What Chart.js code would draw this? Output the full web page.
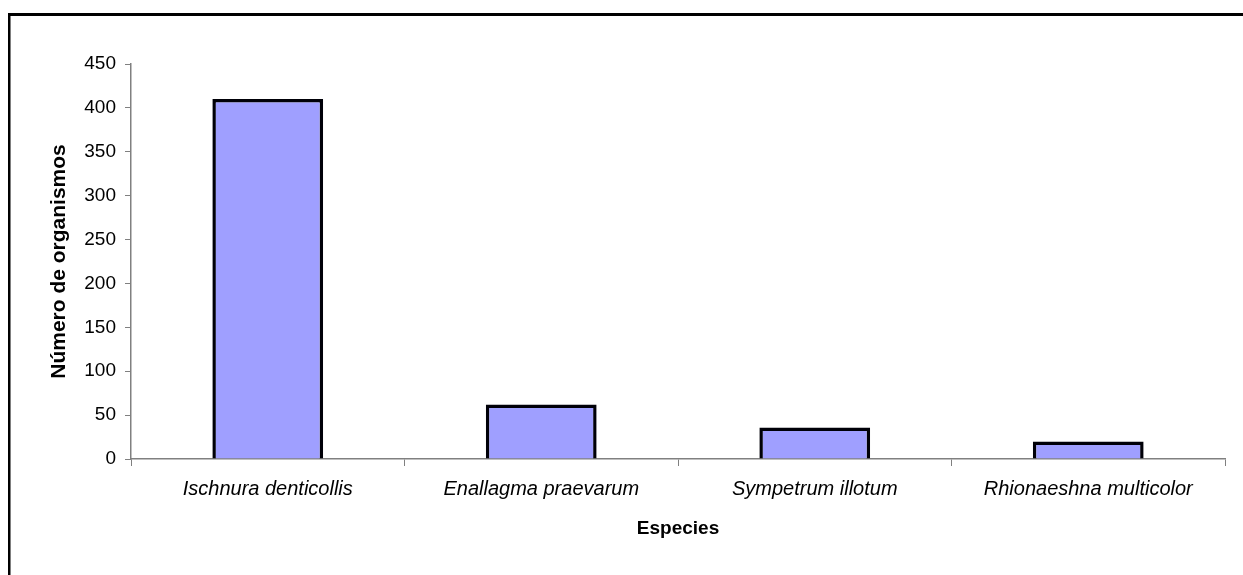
<!DOCTYPE html>
<html>
<head>
<meta charset="utf-8">
<script src="https://cdn.jsdelivr.net/npm/chart.js@4/dist/chart.umd.min.js"></script>
<style>
  html, body { margin: 0; padding: 0; background: #ffffff; }
  #wrap { position: relative; width: 1243px; height: 575px; }
</style>
</head>
<body>
<div id="wrap"><canvas id="c" width="1243" height="575"></canvas></div>
<script>
// Species recorded and number of organisms per species
const species = ['Ischnura denticollis', 'Enallagma praevarum', 'Sympetrum illotum', 'Rhionaeshna multicolor'];
const organisms = [410, 62, 36, 20];
const yTicks = [0, 50, 100, 150, 200, 250, 300, 350, 400, 450];

const FONT = "'Liberation Sans', Arial, Helvetica, sans-serif";
const AXIS_GRAY = '#808080';

// Open frame around the chart (top and left edges)
const framePlugin = {
  id: 'frame',
  beforeDraw(chart) {
    const ctx = chart.ctx;
    ctx.save();
    ctx.fillStyle = '#ffffff';
    ctx.fillRect(0, 0, chart.width, chart.height);
    ctx.fillStyle = '#000000';
    ctx.fillRect(8, 13, chart.width - 8, 3);
    ctx.fillRect(8, 13, 2.5, chart.height - 13);
    ctx.restore();
  }
};

new Chart(document.getElementById('c'), {
  type: 'bar',
  data: {
    labels: species,
    datasets: [{
      data: organisms,
      backgroundColor: '#9f9fff',
      borderColor: '#000008',
      borderWidth: 3.5,
      barPercentage: 0.405,
      categoryPercentage: 1.0
    }]
  },
  options: {
    responsive: false,
    animation: false,
    devicePixelRatio: 1,
    layout: { padding: { top: 64, right: 18, bottom: 0, left: 0 } },
    plugins: {
      legend: { display: false },
      tooltip: { enabled: false }
    },
    scales: {
      x: {
        offset: true,
        grid: {
          offset: true,
          drawOnChartArea: false,
          drawTicks: true,
          tickLength: 7,
          color: AXIS_GRAY,
          lineWidth: 1
        },
        border: { color: AXIS_GRAY, width: 1.5 },
        ticks: {
          color: '#000000',
          font: { family: FONT, size: 20, style: 'italic' },
          padding: 11,
          maxRotation: 0,
          autoSkip: false
        },
        title: {
          display: true,
          text: 'Especies',
          color: '#000000',
          font: { family: FONT, size: 19, weight: 'bold' },
          padding: { top: 0, bottom: 35 }
        },
        afterFit(scale) { scale.height = 116; }
      },
      y: {
        min: 0,
        max: 450,
        afterBuildTicks(scale) { scale.ticks = yTicks.map(v => ({ value: v })); },
        grid: {
          drawOnChartArea: false,
          drawTicks: true,
          tickLength: 6,
          color: AXIS_GRAY,
          lineWidth: 1
        },
        border: { color: AXIS_GRAY, width: 1.5 },
        ticks: {
          color: '#000000',
          font: { family: FONT, size: 19 },
          padding: 9
        },
        title: {
          display: true,
          text: 'Número de organismos',
          color: '#000000',
          font: { family: FONT, size: 21, weight: 'bold' },
          padding: { top: 47, bottom: 0 }
        },
        afterFit(scale) { scale.width = 131; }
      }
    }
  },
  plugins: [framePlugin]
});
</script>
</body>
</html>
